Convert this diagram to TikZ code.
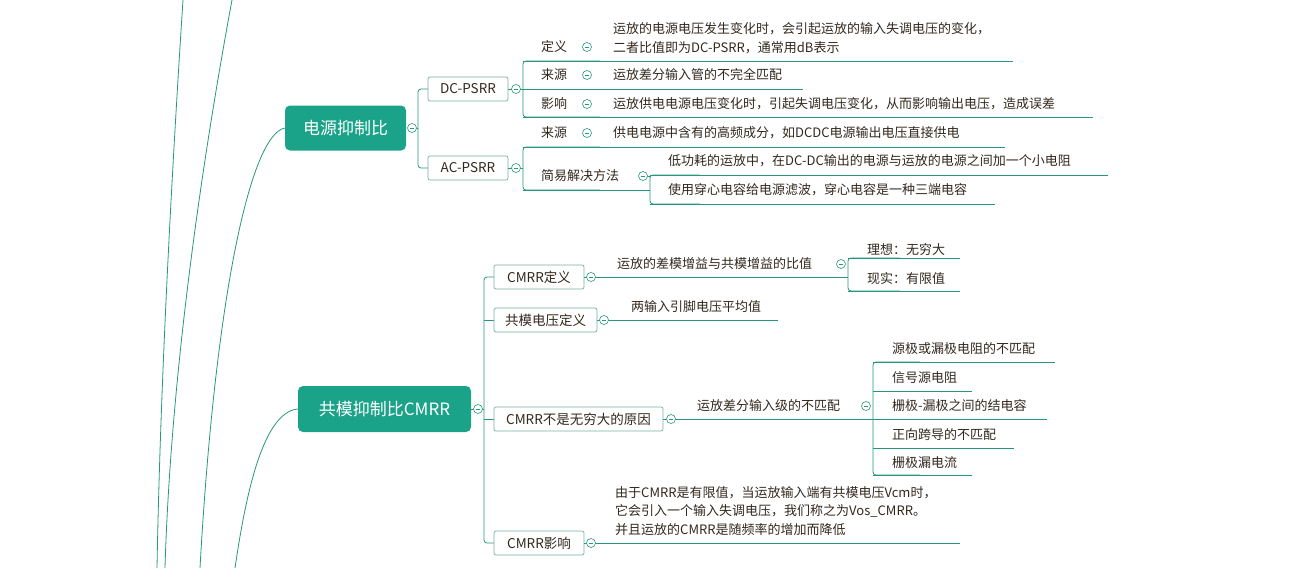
\documentclass[tikz,border=0pt]{standalone}
\usepackage{fontspec}
\setmainfont{Noto Sans CJK SC}
\begin{document}
\begin{tikzpicture}[x=1pt,y=-1pt,
  ln/.style={draw=teal!70!black!80, line width=0.8pt, color={rgb,255:red,40;green,150;blue,125}},
  br/.style={ln, rounded corners=3pt},
  main/.style={fill={rgb,255:red,27;green,163;blue,138}, rounded corners=5pt, text=white, font=\fontsize{17}{20}\selectfont, inner sep=0pt},
  box/.style={draw={rgb,255:red,120;green,175;blue,165}, fill=white, rounded corners=2pt, line width=0.7pt, font=\fontsize{13.5}{16}\selectfont, text={rgb,255:red,50;green,40;blue,30}, inner sep=0pt},
  txt/.style={anchor=west, font=\fontsize{13}{18.5}\selectfont, text={rgb,255:red,50;green,40;blue,30}, inner sep=0pt, align=left},
  tog/.style={circle, draw={rgb,255:red,40;green,150;blue,125}, fill=white, minimum size=9pt, inner sep=0pt, line width=0.6pt, path picture={\draw[line width=0.6pt,color={rgb,255:red,40;green,150;blue,125}] ([xshift=-2pt]path picture bounding box.center) -- ([xshift=2pt]path picture bounding box.center);}},
]
\useasboundingbox (0,0) rectangle (1303,568);
\definecolor{lc}{RGB}{40,150,125}
% big curves on the left
\draw[ln] (183,0) .. controls (170,200) and (160,400) .. (157,568);
\draw[ln] (232,0) .. controls (195,200) and (170,400) .. (165,568);
\node[main, minimum width=121pt, minimum height=45pt] (psrr) at (345.5,128) {电源抑制比};
\node[main, minimum width=173pt, minimum height=46pt] (cmrr) at (384.5,409) {共模抑制比CMRR};
\draw[ln] (psrr.west) .. controls (250,135) and (215,300) .. (200,568);
\draw[ln] (cmrr.west) .. controls (262,412) and (245,500) .. (235,568);

% PSRR
\draw[br] (412,128) -- (418,128);
\draw[br] (428,89) -- (418,89) -- (418,168) -- (428,168);
\node[box, minimum width=80pt, minimum height=24pt] (dc) at (468,89) {DC-PSRR};
\node[box, minimum width=80pt, minimum height=24pt] (ac) at (468,168) {AC-PSRR};
\node[tog] (t0) at (412,128) {};
% DC children
\draw[br] (dc.east) -- (530,89);
\draw[br] (600,61) -- (523,61) -- (523,117) -- (600,117);
\draw[ln] (523,61) -- (1013,61);
\draw[ln] (523,89) -- (803,89);
\draw[ln] (523,117) -- (1093,117);
\node[tog] (tdc) at (516,89) {};
\node[txt] (d1) at (541,47) {定义};
\node[tog] at (587,47) {};
\node[txt] at (613,38) {运放的电源电压发生变化时，会引起运放的输入失调电压的变化，\\二者比值即为DC-PSRR，通常用dB表示};
\node[txt] (d2) at (541,75) {来源};
\node[tog] at (587,75) {};
\node[txt] at (613,75) {运放差分输入管的不完全匹配};
\node[txt] (d3) at (541,104) {影响};
\node[tog] at (587,104) {};
\node[txt] at (613,104) {运放供电电源电压变化时，引起失调电压变化，从而影响输出电压，造成误差};
% AC children
\draw[br] (ac.east) -- (523,168);
\draw[br] (600,147) -- (523,147) -- (523,190) -- (600,190);
\draw[ln] (523,147) -- (1005,147);
\draw[ln] (523,190) -- (650,190);
\node[tog] (tac) at (516,168) {};
\node[txt] at (541,133) {来源};
\node[tog] at (587,133) {};
\node[txt] at (613,133) {供电电源中含有的高频成分，如DCDC电源输出电压直接供电};
\node[txt] at (541,176) {简易解决方法};
\draw[br] (643,176) -- (650,176);
\draw[br] (700,175) -- (650,175) -- (650,204) -- (700,204);
\draw[ln] (650,175) -- (1108,175);
\draw[ln] (650,204) -- (995,204);
\node[tog] at (643,176) {};
\node[txt] at (668,161) {低功耗的运放中，在DC-DC输出的电源与运放的电源之间加一个小电阻};
\node[txt] at (668,190) {使用穿心电容给电源滤波，穿心电容是一种三端电容};

% CMRR
\draw[br] (cmrr.east) -- (484,409);
\draw[br] (494,277) -- (484,277) -- (484,543) -- (494,543);
\draw[ln] (484,320) -- (494,320);
\draw[ln] (484,419) -- (494,419);
\node[tog] at (478,409) {};
\node[box, minimum width=90pt, minimum height=24pt] (c1) at (539,277) {CMRR定义};
\node[box, minimum width=103pt, minimum height=24pt] (c2) at (545.5,320) {共模电压定义};
\node[box, minimum width=169pt, minimum height=24pt] (c3) at (578.5,419) {CMRR不是无穷大的原因};
\node[box, minimum width=90pt, minimum height=24pt] (c4) at (539,543) {CMRR影响};
% c1
\draw[ln] (c1.east) -- (848,277);
\draw[br] (900,258) -- (848,258) -- (848,291) -- (900,291);
\draw[ln] (848,258) -- (960,258);
\draw[ln] (848,291) -- (960,291);
\node[tog] at (591,277) {};
\node[txt] at (617,264) {运放的差模增益与共模增益的比值};
\node[tog] at (841,264) {};
\node[txt] at (867,250) {理想：无穷大};
\node[txt] at (867,279) {现实：有限值};
% c2
\draw[ln] (c2.east) -- (778,320);
\node[tog] at (604,320) {};
\node[txt] at (631,307) {两输入引脚电压平均值};
% c3
\draw[ln] (c3.east) -- (873,419);
\draw[br] (920,362) -- (873,362) -- (873,475) -- (920,475);
\draw[ln] (873,362) -- (1055,362);
\draw[ln] (873,391) -- (972,391);
\draw[ln] (873,419) -- (1047,419);
\draw[ln] (873,448) -- (1014,448);
\draw[ln] (873,475) -- (972,475);
\node[tog] at (671,419) {};
\node[txt] at (697,406) {运放差分输入级的不匹配};
\node[tog] at (866,406) {};
\node[txt] at (892,349) {源极或漏极电阻的不匹配};
\node[txt] at (892,378) {信号源电阻};
\node[txt] at (892,406) {栅极-漏极之间的结电容};
\node[txt] at (892,435) {正向跨导的不匹配};
\node[txt] at (892,463) {栅极漏电流};
% c4
\draw[ln] (c4.east) -- (960,543);
\node[tog] at (591,543) {};
\node[txt] at (615,511) {由于CMRR是有限值，当运放输入端有共模电压Vcm时，\\它会引入一个输入失调电压，我们称之为Vos\_CMRR。\\并且运放的CMRR是随频率的增加而降低};
\end{tikzpicture}
\end{document}
